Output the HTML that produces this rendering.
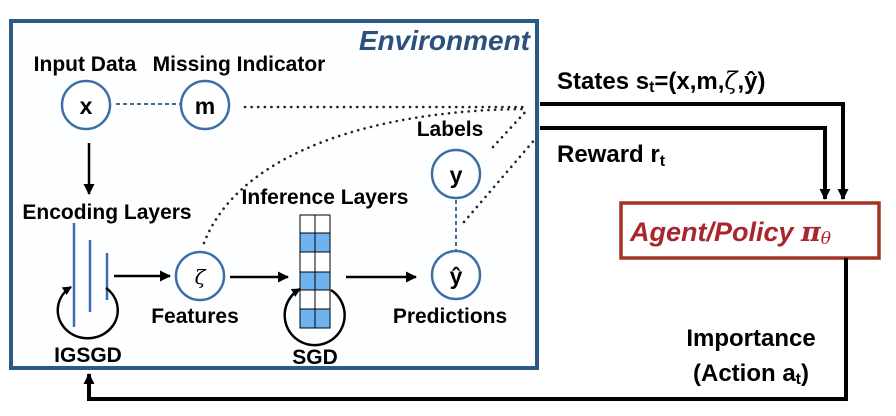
<!DOCTYPE html>
<html><head><meta charset="utf-8"><style>
body{margin:0;background:#fff}
svg{display:block}
text{font-family:"Liberation Sans",sans-serif;font-weight:bold}
</style></head><body>
<svg width="896" height="416" viewBox="0 0 896 416" xmlns="http://www.w3.org/2000/svg">
<defs>
<marker id="ah" markerWidth="11" markerHeight="11" refX="10" refY="5.5" orient="auto" markerUnits="userSpaceOnUse"><path d="M0,0 L11,5.5 L0,11 z" fill="#000"/></marker>
<marker id="ahs" markerWidth="9" markerHeight="9" refX="8" refY="4.5" orient="auto" markerUnits="userSpaceOnUse"><path d="M0,0 L9,4.5 L0,9 z" fill="#000"/></marker>
</defs>
<rect x="11" y="21" width="526" height="347" fill="#fdfeff" stroke="#2c5a85" stroke-width="4"/>
<text x="530" y="50" font-size="28" font-style="italic" fill="#2c4f7c" text-anchor="end">Environment</text>
<text x="85" y="71" font-size="21" text-anchor="middle">Input Data</text>
<text x="239" y="71" font-size="21" text-anchor="middle">Missing Indicator</text>
<g fill="#fff" stroke="#3b6fa5" stroke-width="2.5">
<circle cx="86" cy="105" r="24"/><circle cx="205" cy="105" r="24"/>
<circle cx="200" cy="276" r="24"/><circle cx="456" cy="174" r="24"/><circle cx="456" cy="275" r="24"/>
</g>
<text x="86" y="114" font-size="23" text-anchor="middle">x</text>
<text x="205" y="114" font-size="23" text-anchor="middle">m</text>
<text x="200" y="284" font-size="20" font-style="italic" text-anchor="middle" style="font-family:'DejaVu Serif',serif;font-weight:normal">ζ</text>
<text x="456" y="183" font-size="23" text-anchor="middle">y</text>
<text x="456" y="284" font-size="23" text-anchor="middle">ŷ</text>
<line x1="116" y1="104" x2="180" y2="104" stroke="#4a6a8a" stroke-width="2" stroke-dasharray="4,3"/>
<g stroke="#222" stroke-width="2.6" stroke-dasharray="0.1,6.5" fill="none" stroke-linecap="round">
<line x1="245" y1="107" x2="525" y2="107"/>
<path d="M204,243 C240,150 380,110 525,109"/>
<line x1="493" y1="147" x2="527" y2="110"/>
<line x1="464" y1="222" x2="536" y2="138"/>
</g>
<line x1="456" y1="200" x2="456" y2="250" stroke="#4a6a8a" stroke-width="2" stroke-dasharray="4,3"/>
<text x="450" y="136" font-size="21" text-anchor="middle">Labels</text>
<line x1="89" y1="143" x2="89" y2="194" stroke="#000" stroke-width="2.5" marker-end="url(#ah)"/>
<text x="107" y="219" font-size="21" text-anchor="middle">Encoding Layers</text>
<g stroke="#3a6cb0" stroke-width="2.5">
<line x1="74" y1="223" x2="74" y2="327"/><line x1="90" y1="240" x2="90" y2="312"/><line x1="107" y1="253" x2="107" y2="300"/>
</g>
<path d="M106,288 A30,28 0 1 1 71,287" fill="none" stroke="#000" stroke-width="2.5" marker-end="url(#ahs)"/>
<text x="88" y="362" font-size="21" text-anchor="middle">IGSGD</text>
<line x1="114" y1="276" x2="170" y2="276" stroke="#000" stroke-width="2.5" marker-end="url(#ah)"/>
<text x="195" y="323" font-size="21" text-anchor="middle">Features</text>
<line x1="230" y1="277" x2="288" y2="277" stroke="#000" stroke-width="2.5" marker-end="url(#ah)"/>
<text x="325" y="204" font-size="21" text-anchor="middle">Inference Layers</text>
<g stroke="#000" stroke-width="1">
<rect x="300" y="215" width="30" height="113" fill="#fff"/>
<rect x="300" y="233" width="30" height="19" fill="#6db3ee" stroke="none"/>
<rect x="300" y="272" width="30" height="18" fill="#6db3ee" stroke="none"/>
<rect x="300" y="309" width="30" height="19" fill="#6db3ee" stroke="none"/>
<line x1="315" y1="215" x2="315" y2="328"/>
<line x1="300" y1="233" x2="330" y2="233"/><line x1="300" y1="252" x2="330" y2="252"/>
<line x1="300" y1="272" x2="330" y2="272"/><line x1="300" y1="290" x2="330" y2="290"/><line x1="300" y1="309" x2="330" y2="309"/>
<rect x="300" y="215" width="30" height="113" fill="none"/>
</g>
<path d="M331,290 A30,30 0 1 1 300,289" fill="none" stroke="#000" stroke-width="2.5" marker-end="url(#ahs)"/>
<text x="315" y="364" font-size="21" text-anchor="middle">SGD</text>
<line x1="346" y1="277" x2="416" y2="277" stroke="#000" stroke-width="2.5" marker-end="url(#ah)"/>
<text x="450" y="323" font-size="21" text-anchor="middle">Predictions</text>
<text x="557" y="89" font-size="24">States s<tspan font-size="16" dy="3">t</tspan><tspan dy="-3">=(x,m,</tspan><tspan font-style="italic" style="font-family:'DejaVu Serif',serif;font-weight:normal">ζ</tspan>,ŷ)</text>
<text x="557" y="162" font-size="24">Reward r<tspan font-size="16" dy="4">t</tspan></text>
<polyline points="540,104 843,104 843,199" fill="none" stroke="#000" stroke-width="4" marker-end="url(#ah)"/>
<polyline points="540,128 825,128 825,199" fill="none" stroke="#000" stroke-width="4" marker-end="url(#ah)"/>
<rect x="621" y="203" width="258" height="55" fill="#fff" stroke="#a33323" stroke-width="3.5"/>
<text x="630" y="241" font-size="27" font-style="italic" fill="#a8262d">Agent/Policy <tspan style="font-family:'DejaVu Serif',serif">π</tspan><tspan font-size="17" dy="3" style="font-family:'DejaVu Serif',serif;font-weight:normal">θ</tspan></text>
<text x="751" y="346" font-size="24" text-anchor="middle">Importance</text>
<text x="751" y="381" font-size="24" text-anchor="middle">(Action a<tspan font-size="16" dy="3">t</tspan><tspan dy="-3">)</tspan></text>
<polyline points="846,258 846,399 89,399 89,374" fill="none" stroke="#000" stroke-width="4" marker-end="url(#ah)"/>
</svg>
</body></html>
